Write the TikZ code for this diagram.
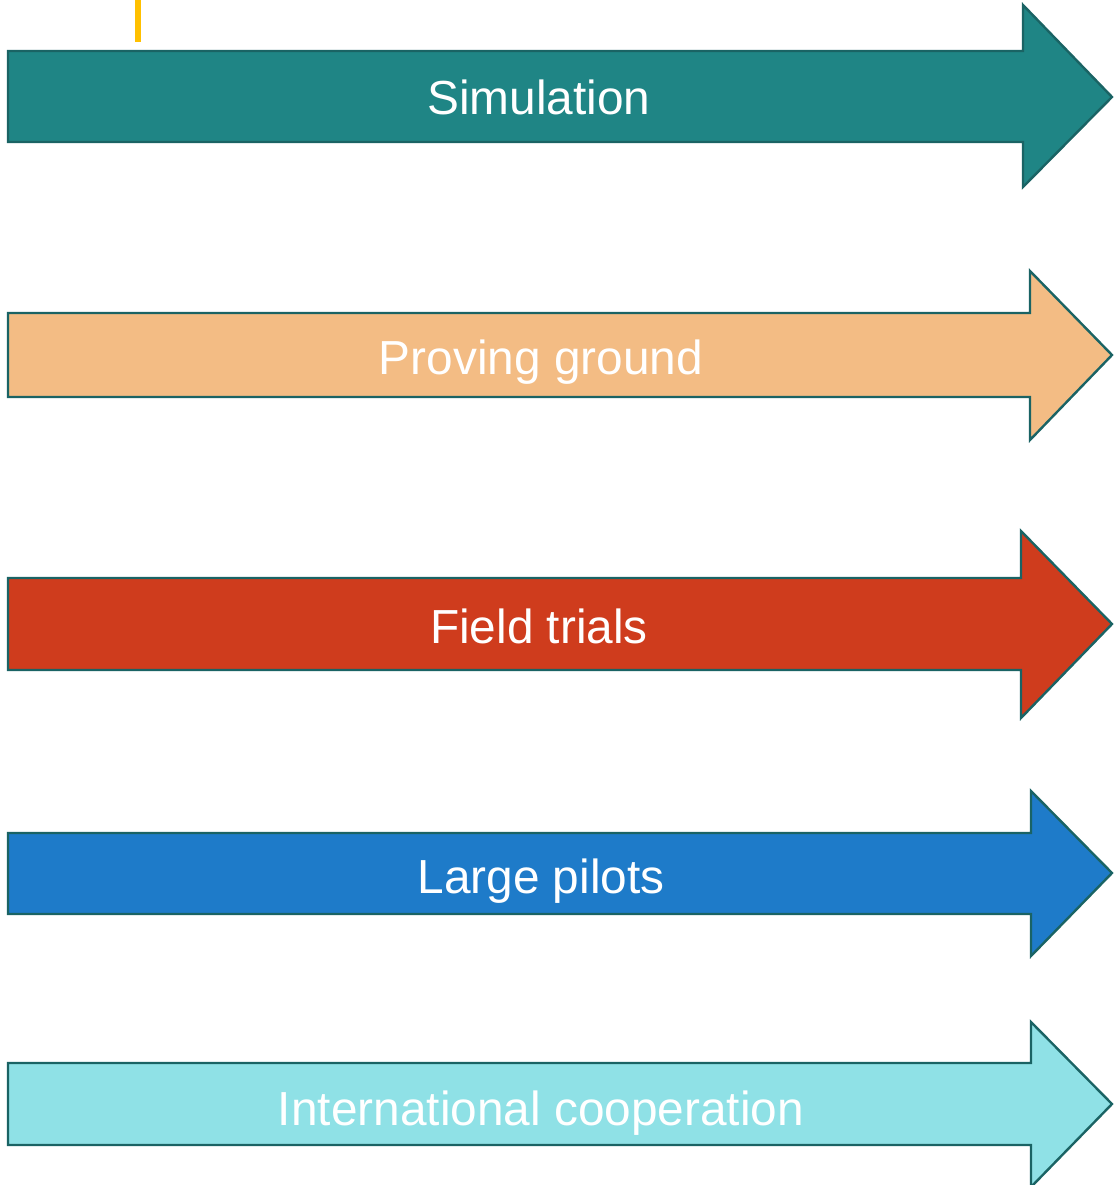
\documentclass[tikz,border=0pt]{standalone}
\usepackage{fontspec}
\setmainfont{Liberation Sans}
\usepackage{tikz}
\usepackage{color}

\definecolor{rimteal}{HTML}{1A6364}
\definecolor{simteal}{HTML}{1F8585}
\definecolor{provorange}{HTML}{F3BC84}
\definecolor{fieldred}{HTML}{CF3C1D}
\definecolor{pilotblue}{HTML}{1E7BC9}
\definecolor{coopcyan}{HTML}{8FE1E6}
\definecolor{markyellow}{HTML}{FFC000}

\begin{document}
\begin{tikzpicture}[x=1pt, y=-1pt, line join=miter]
      \tikzstyle{block}=[draw=rimteal, line width=2.4pt]
      \tikzstyle{caption}=[text=white, inner sep=0pt, anchor=base, font=\fontsize{47.8}{57}\selectfont]
      \useasboundingbox (0,0) rectangle (1114,1185);
      % marker at the top
      \draw[markyellow, line width=6pt] (138,0) -- (138,42);
      % block arrows
      \filldraw[block, fill=simteal] (8,51) -- (1023,51) -- (1023,5) -- (1112,97)
        -- (1023,187) -- (1023,142) -- (8,142) -- cycle;
      \filldraw[block, fill=provorange] (8,313) -- (1030,313) -- (1030,271) -- (1112,355)
        -- (1030,440) -- (1030,397) -- (8,397) -- cycle;
      \filldraw[block, fill=fieldred] (8,578) -- (1021,578) -- (1021,531) -- (1112,624)
        -- (1021,718) -- (1021,670) -- (8,670) -- cycle;
      \filldraw[block, fill=pilotblue] (8,833) -- (1031,833) -- (1031,791) -- (1112,873)
        -- (1031,956) -- (1031,914) -- (8,914) -- cycle;
      \filldraw[block, fill=coopcyan] (8,1063) -- (1031,1063) -- (1031,1022) -- (1112,1104)
        -- (1031,1187) -- (1031,1145) -- (8,1145) -- cycle;
      % labels
      \node[caption] (sim) at (539,115) {Simulation};
      \node[caption] (prov) at (541,374) {Proving ground};
      \node[caption] (field) at (539,643) {Field trials};
      \node[caption] (pilot) at (541,893) {Large pilots};
      \node[caption] (coop) at (541,1125) {International cooperation};
\end{tikzpicture}
\end{document}
